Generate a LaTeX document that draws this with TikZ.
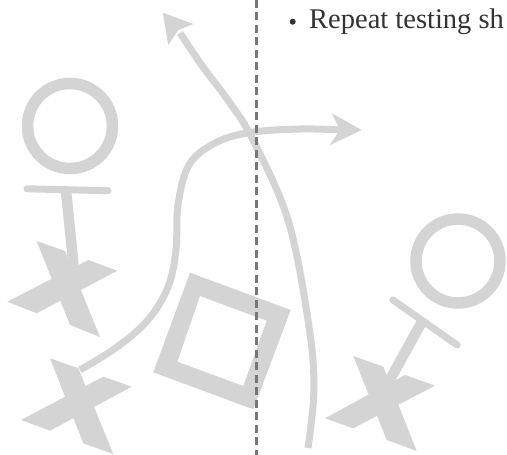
\documentclass[tikz,border=0pt]{standalone}
\usepackage{fontspec}
\setmainfont{Liberation Serif}
\definecolor{shape}{HTML}{D4D4D4}
\definecolor{dash}{HTML}{777777}
\definecolor{ink}{HTML}{333333}
\begin{document}
\begin{tikzpicture}[x=1pt,y=1pt,
  shapefill/.style={fill=shape,draw=none},
  route/.style={draw=shape,line width=7pt},
  ring/.style={draw=shape,line width=11.5pt},
  bar/.style={draw=shape,line width=7pt,line cap=round},
  stem/.style={draw=shape,line width=10.5pt},
  divider/.style={draw=dash,line width=2.5pt,dash pattern=on 8pt off 4.5pt}]
\useasboundingbox (0,0) rectangle (507,455);
\clip (0,0) rectangle (507,455);
\fill[white] (0,0) rectangle (507,455);

% square
\fill[shapefill,even odd rule] (190,182.3) -- (290.7,145) -- (253.3,45.7) -- (153.3,82.7) -- cycle
  (200,159) -- (266.7,134.3) -- (243.3,69) -- (177.3,93.3) -- cycle;

% upward curved route
\draw[route] plot[smooth,tension=0.6] coordinates {(308,7) (314,68) (308,135) (288,235) (253,315) (230,352) (203,388) (180,422)};
\fill[shapefill] (162.7,442.3) -- (193.3,431) -- (178.3,425) -- (168.3,410) -- cycle;

% rightward curved route
\draw[route] plot[smooth,tension=0.6] coordinates {(80,85) (117,108) (148,135) (168,168) (176,205) (178,250) (189,290) (215,312) (250,322.5) (300,326) (342,325)};
\fill[shapefill] (361.7,325) -- (331.7,341.7) -- (340,325) -- (330,310) -- cycle;

% left player: circle, bar, stem, X
\draw[ring] (70,329) circle[radius=42.5];
\draw[bar] (27,266.2) -- (108,264.3);
\draw[stem] (66,264) -- (75,175);
\fill[shapefill] (36.7,214) -- (65,204) -- (100,118) -- (70,130) -- cycle;
\fill[shapefill] (7.3,153.3) -- (88.3,195) -- (117.3,184.3) -- (36.7,141.7) -- cycle;

% lower-left X
\fill[shapefill] (50,96.7) -- (78.3,86.7) -- (113.3,1) -- (83.3,11.7) -- cycle;
\fill[shapefill] (21,35) -- (103.3,78.3) -- (131.7,68.3) -- (50,24.3) -- cycle;

% right player
\draw[ring] (458,194) circle[radius=42];
\draw[bar] (392.9,155) -- (457.1,110);
\draw[stem] (424,137) -- (387,70);
\fill[shapefill] (353.3,99) -- (383.3,88.3) -- (416.7,4) -- (386.7,15) -- cycle;
\fill[shapefill] (325,36.7) -- (405,80) -- (435,69.3) -- (353.3,26.7) -- cycle;

% dashed divider
\draw[divider] (256.7,455) -- (256.7,0);

% text
\fill[ink] (292.7,433.3) circle[radius=3];
\node[anchor=base west,inner sep=0pt,text=ink,font=\fontsize{28.5}{33}\selectfont] (bullettext) at (309,426.5) {Repeat testing sh};
\end{tikzpicture}
\end{document}
